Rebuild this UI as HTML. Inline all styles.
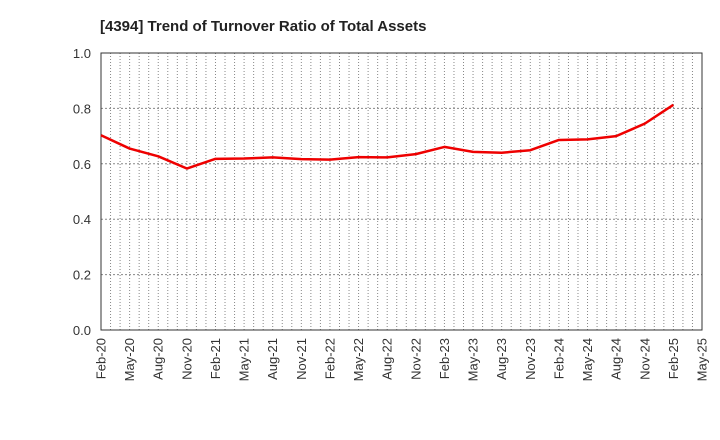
<!DOCTYPE html>
<html><head><meta charset="utf-8"><style>
body{margin:0;background:#fff;}
svg{display:block;font-family:"Liberation Sans",sans-serif;}
</style></head><body>
<svg id="chart" width="720" height="440">
<text x="100" y="31" font-size="15" font-weight="bold" fill="#222">[4394]  Trend of Turnover Ratio of Total Assets</text>
<g id="grid"></g><g id="axes"></g><g id="series"></g>
</svg>
<script>
const xLabels=["Feb-20","May-20","Aug-20","Nov-20","Feb-21","May-21","Aug-21","Nov-21","Feb-22","May-22","Aug-22","Nov-22","Feb-23","May-23","Aug-23","Nov-23","Feb-24","May-24","Aug-24","Nov-24","Feb-25","May-25"];
const yTicks=[0,0.2,0.4,0.6,0.8,1.0];
const values=[0.703,0.655,0.627,0.583,0.618,0.619,0.623,0.617,0.615,0.624,0.623,0.635,0.661,0.643,0.640,0.649,0.686,0.688,0.700,0.745,0.813];
const NS="http://www.w3.org/2000/svg";
const L=101,R=702,T=53,B=330;
const xs=i=>L+(R-L)*i/(xLabels.length-1);
const ys=v=>B-(B-T)*v/1.0;
function mk(tag,attrs,parent){const e=document.createElementNS(NS,tag);for(const k in attrs)e.setAttribute(k,attrs[k]);parent.appendChild(e);return e;}
const grid=document.getElementById('grid'),axes=document.getElementById('axes'),series=document.getElementById('series');
const nMonths=(xLabels.length-1)*3;
for(let m=1;m<nMonths;m++){const x=L+(R-L)*m/nMonths;
const ln=mk('line',{x1:x,x2:x,y1:T,y2:B,stroke:'#888','stroke-width':1,'stroke-dasharray':'1,2'},grid);

}
yTicks.forEach(v=>{const y=ys(v);
if(v>0&&v<1){const g=mk('line',{x1:L,x2:R,y1:y,y2:y,stroke:'#888','stroke-width':1,'stroke-dasharray':'2,2'},grid);

}
const t=mk('text',{x:L-10,y:y+5,'text-anchor':'end','font-size':13,fill:'#333'},axes);t.textContent=v.toFixed(1);

});
const frame=mk('rect',{x:L,y:T,width:R-L,height:B-T,fill:'none',stroke:'#333','stroke-width':1},axes);


xLabels.forEach((s,i)=>{const x=xs(i);
const t=mk('text',{x:0,y:0,'text-anchor':'end','font-size':13,fill:'#333',transform:`translate(${x+4.5},${B+8}) rotate(-90)`},axes);t.textContent=s;

});
const pts=values.map((v,i)=>xs(i)+','+ys(v)).join(' ');
const pl=mk('polyline',{points:pts,fill:'none',stroke:'#ee0000','stroke-width':2.5,'stroke-linejoin':'round'},series);


</script>
</body></html>
